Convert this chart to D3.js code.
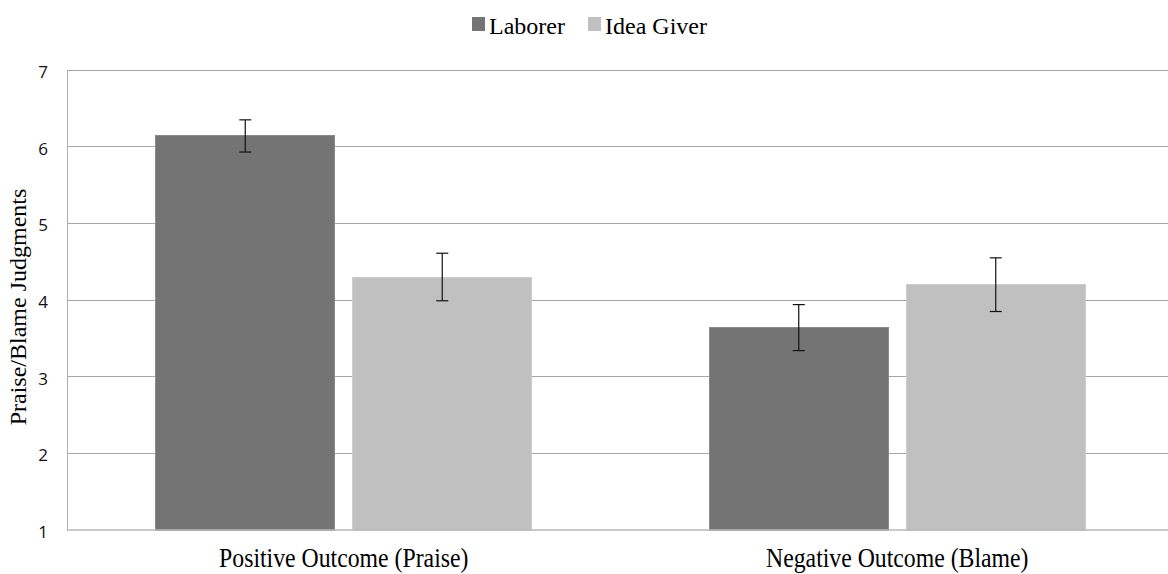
<!DOCTYPE html>
<html>
<head>
<meta charset="utf-8">
<script src="https://cdn.jsdelivr.net/npm/d3@7"></script>
<style>
  html, body { margin: 0; padding: 0; background: #fff; }
  svg { display: block; }
</style>
</head>
<body>
<svg id="chart" width="1168" height="574"></svg>
<script>
const groups = ["Positive Outcome (Praise)", "Negative Outcome (Blame)"];
const seriesNames = ["Laborer", "Idea Giver"];
const laborerValues = [6.14, 3.64];
const laborerErrors = [0.21, 0.30];
const ideaGiverValues = [4.30, 4.20];
const ideaGiverErrors = [0.31, 0.35];
const yTicks = [1, 2, 3, 4, 5, 6, 7];
const seriesColors = ["#747474", "#c0c0c0"];

const svg = d3.select("#chart");
const plotLeft = 67, plotRight = 1174, plotTop = 70, plotBottom = 530;
const serif = "'Liberation Serif', 'Times New Roman', serif";

const y = d3.scaleLinear().domain([1, 7]).range([plotBottom, plotTop]);
const x0 = d3.scaleBand().domain(groups).range([plotLeft, plotRight]).padding(0);
const x1 = d3.scaleBand().domain(seriesNames).range([0, x0.bandwidth()])
  .paddingInner(0.0914).paddingOuter(0.4505);

// gridlines
svg.append("g").selectAll("line").data(yTicks.filter(t => t > 1)).join("line")
  .attr("x1", plotLeft).attr("x2", plotRight)
  .attr("y1", d => y(d)).attr("y2", d => y(d))
  .attr("stroke", "#a6a6a6").attr("stroke-width", 1)
  .attr("shape-rendering", "crispEdges");

// y axis
const yAxis = d3.axisLeft(y).tickValues(yTicks).tickSize(0).tickPadding(19).tickFormat(d3.format("d"));
const gy = svg.append("g").attr("transform", `translate(${plotLeft},0)`).call(yAxis);
gy.select(".domain").attr("stroke", "#b0b0b0").attr("shape-rendering", "crispEdges");
gy.selectAll("text").attr("font-family", "'Open Sans', 'Liberation Sans', sans-serif")
  .attr("font-size", 17).attr("fill", "#111").attr("dy", "0.45em");

// bars
const data = groups.map((g, i) => ({
  group: g,
  items: [
    { series: seriesNames[0], value: laborerValues[i], err: laborerErrors[i] },
    { series: seriesNames[1], value: ideaGiverValues[i], err: ideaGiverErrors[i] }
  ]
}));
const color = d3.scaleOrdinal().domain(seriesNames).range(seriesColors);

const gGroups = svg.append("g").selectAll("g").data(data).join("g")
  .attr("transform", d => `translate(${x0(d.group)},0)`);

gGroups.selectAll("rect").data(d => d.items).join("rect")
  .attr("x", d => x1(d.series))
  .attr("width", x1.bandwidth())
  .attr("y", d => y(d.value))
  .attr("height", d => y(1) - y(d.value))
  .attr("fill", d => color(d.series))
  .attr("stroke", d => d.series === seriesNames[0] ? "#8a8a8a" : "#cdcdcd")
  .attr("stroke-width", 1)
  .attr("shape-rendering", "crispEdges");

// error bars
const eb = gGroups.selectAll("g.err").data(d => d.items).join("g").attr("class", "err");
const cx = d => x1(d.series) + x1.bandwidth() / 2;
eb.append("line")
  .attr("x1", cx).attr("x2", cx)
  .attr("y1", d => y(d.value + d.err)).attr("y2", d => y(d.value - d.err))
  .attr("stroke", "#111").attr("stroke-width", 1.2);
eb.append("line")
  .attr("x1", d => cx(d) - 6).attr("x2", d => cx(d) + 6)
  .attr("y1", d => y(d.value + d.err)).attr("y2", d => y(d.value + d.err))
  .attr("stroke", "#111").attr("stroke-width", 1.2);
eb.append("line")
  .attr("x1", d => cx(d) - 6).attr("x2", d => cx(d) + 6)
  .attr("y1", d => y(d.value - d.err)).attr("y2", d => y(d.value - d.err))
  .attr("stroke", "#111").attr("stroke-width", 1.2);

// baseline
svg.append("line").attr("x1", plotLeft).attr("x2", plotRight)
  .attr("y1", y(1)).attr("y2", y(1))
  .attr("stroke", "#b8b8b8").attr("stroke-width", 1.5);

// x axis labels
const xAxis = d3.axisBottom(x0).tickSize(0).tickPadding(0);
const gx = svg.append("g").attr("transform", `translate(0,${plotBottom})`).call(xAxis);
gx.select(".domain").remove();
gx.selectAll("text")
  .attr("font-family", serif)
  .attr("font-size", 27).attr("fill", "#000")
  .attr("y", 37).attr("dy", 0)
  .attr("transform", "scale(0.88,1)");

// y title
svg.append("text")
  .attr("transform", `translate(26,307) rotate(-90)`)
  .attr("text-anchor", "middle")
  .attr("font-family", serif)
  .attr("font-size", 24).attr("fill", "#000")
  .text("Praise/Blame Judgments");

// legend
const legendPos = [472, 588];
const lg = svg.append("g").selectAll("g").data(seriesNames).join("g")
  .attr("transform", (d, i) => `translate(${legendPos[i]},17)`);
lg.append("rect").attr("x", 0).attr("y", 0).attr("width", 13).attr("height", 14)
  .attr("fill", d => color(d));
lg.append("text").attr("x", 17).attr("y", 17)
  .attr("font-family", serif)
  .attr("font-size", 24).attr("fill", "#000")
  .text(d => d);
</script>
</body>
</html>
